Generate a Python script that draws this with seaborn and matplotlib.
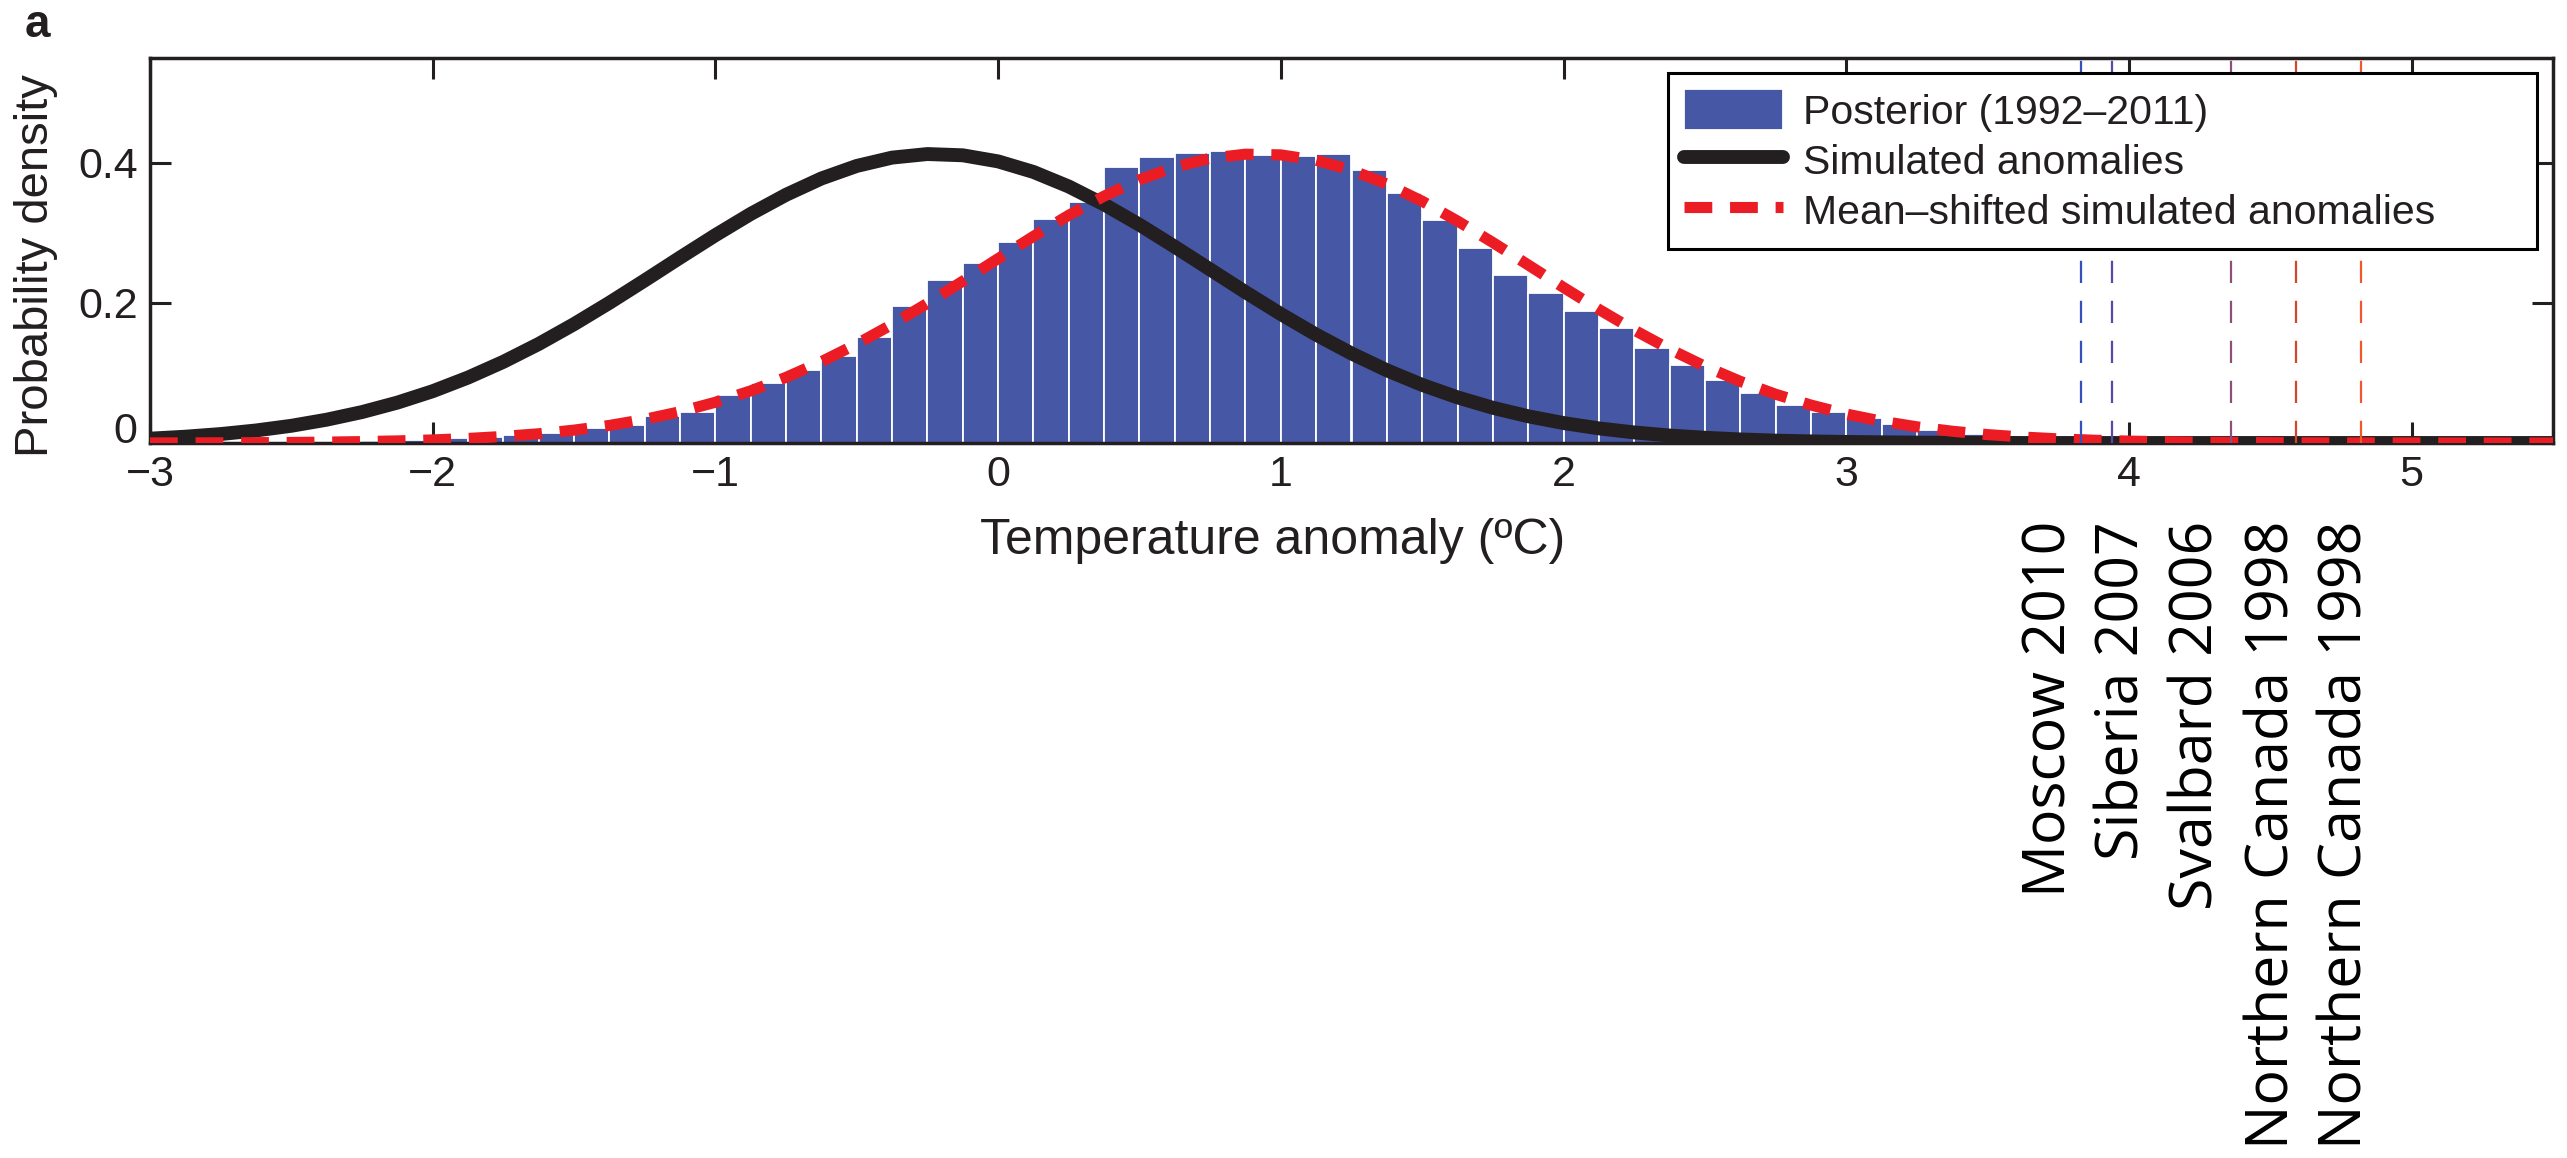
import numpy as np
import matplotlib
matplotlib.use("Agg")
import matplotlib.pyplot as plt
import matplotlib.transforms as mtransforms
import seaborn as sns

# ---------------- data ----------------
bin_edges = [-2.375, -2.25, -2.125, -2.0, -1.875, -1.75, -1.625, -1.5, -1.375, -1.25,
             -1.125, -1.0, -0.875, -0.75, -0.625, -0.5, -0.375, -0.25, -0.125, 0.0,
             0.125, 0.25, 0.375, 0.5, 0.625, 0.75, 0.875, 1.0, 1.125, 1.25,
             1.375, 1.5, 1.625, 1.75, 1.875, 2.0, 2.125, 2.25, 2.375, 2.5,
             2.625, 2.75, 2.875, 3.0, 3.125, 3.25, 3.375, 3.5, 3.625, 3.75]
posterior = [0.002, 0.003, 0.005, 0.007, 0.009, 0.012, 0.014, 0.021, 0.026, 0.038,
             0.045, 0.069, 0.086, 0.105, 0.124, 0.152, 0.195, 0.233, 0.257, 0.287,
             0.320, 0.345, 0.394, 0.409, 0.414, 0.417, 0.412, 0.410, 0.413, 0.390,
             0.357, 0.318, 0.279, 0.240, 0.214, 0.188, 0.164, 0.136, 0.112, 0.090,
             0.071, 0.055, 0.045, 0.036, 0.027, 0.019, 0.013, 0.008, 0.004]

curve_x = [-3.0, -2.875, -2.75, -2.625, -2.5, -2.375, -2.25, -2.125,
           -2.0, -1.875, -1.75, -1.625, -1.5, -1.375, -1.25, -1.125,
           -1.0, -0.875, -0.75, -0.625, -0.5, -0.375, -0.25, -0.125,
           0.0, 0.125, 0.25, 0.375, 0.5, 0.625, 0.75, 0.875,
           1.0, 1.125, 1.25, 1.375, 1.5, 1.625, 1.75, 1.875,
           2.0, 2.125, 2.25, 2.375, 2.5, 2.625, 2.75, 2.875,
           3.0, 3.125, 3.25, 3.375, 3.5, 3.625, 3.75, 3.875,
           4.0, 4.125, 4.25, 4.375, 4.5, 4.625, 4.75, 4.875,
           5.0, 5.125, 5.25, 5.375, 5.5]
simulated = [0.0062, 0.0090, 0.0128, 0.0179, 0.0246, 0.0333, 0.0442, 0.0577,
             0.0740, 0.0935, 0.1160, 0.1415, 0.1698, 0.2003, 0.2323, 0.2649,
             0.2969, 0.3273, 0.3546, 0.3779, 0.3958, 0.4077, 0.4128, 0.4110,
             0.4023, 0.3872, 0.3664, 0.3408, 0.3118, 0.2803, 0.2479, 0.2155,
             0.1842, 0.1548, 0.1279, 0.1039, 0.0830, 0.0652, 0.0503, 0.0382,
             0.0285, 0.0209, 0.0151, 0.0107, 0.0075, 0.0051, 0.0034, 0.0023,
             0.0015, 0.0010, 0.0006, 0.0004, 0.0002, 0.0, 0.0, 0.0,
             0.0, 0.0, 0.0, 0.0, 0.0, 0.0, 0.0, 0.0,
             0.0, 0.0, 0.0, 0.0, 0.0]
shifted = [0.0001, 0.0002, 0.0003, 0.0005, 0.0008, 0.0013, 0.0020, 0.0030,
           0.0044, 0.0065, 0.0094, 0.0132, 0.0184, 0.0251, 0.0338, 0.0447,
           0.0582, 0.0745, 0.0938, 0.1162, 0.1415, 0.1694, 0.1995, 0.2312,
           0.2634, 0.2952, 0.3254, 0.3527, 0.3760, 0.3943, 0.4067, 0.4126,
           0.4116, 0.4039, 0.3898, 0.3700, 0.3454, 0.3171, 0.2864, 0.2544,
           0.2222, 0.1909, 0.1613, 0.1341, 0.1096, 0.0881, 0.0697, 0.0542,
           0.0414, 0.0312, 0.0231, 0.0168, 0.0120, 0.0085, 0.0059, 0.0040,
           0.0027, 0.0018, 0.0011, 0.0007, 0.0005, 0.0003, 0.0002, 0.0001,
           0.0001, 0.0, 0.0, 0.0, 0.0]

event_names = ["Moscow 2010", "Siberia 2007", "Svalbard 2006",
               "Northern Canada 1998", "Northern Canada 1998"]
event_x = [3.83, 3.94, 4.36, 4.59, 4.82]
event_colors = ["#3550b8", "#5a46ad", "#8e4f7c", "#d4452c", "#ee5a30"]
event_label_x = [3.72, 3.98, 4.24, 4.51, 4.77]

x_ticks = [-3, -2, -1, 0, 1, 2, 3, 4, 5]
y_ticks = [0, 0.2, 0.4]
y_tick_labels = ["0", "0.2", "0.4"]

legend_order = ["Posterior (1992\u20132011)", "Simulated anomalies",
                "Mean\u2013shifted simulated anomalies"]

# ---------------- style ----------------
sns.set_style("ticks")
plt.rcParams["font.family"] = ["Liberation Sans", "DejaVu Sans"]
plt.rcParams["axes.unicode_minus"] = True

BLUE = "#4658a5"
BLACK = "#231f20"
RED = "#ec1c24"
TXT = "#231f20"

W, H = 2567, 1158
fig = plt.figure(figsize=(W / 100, H / 100), dpi=100)
ax = fig.add_axes([150 / W, 1 - 443 / H, (2553 - 150) / W, (443 - 58) / H])

centers = [(a + b) / 2 for a, b in zip(bin_edges[:-1], bin_edges[1:])]
sns.histplot(x=centers, weights=posterior, bins=bin_edges, stat="count",
             color=BLUE, alpha=1, edgecolor="white", linewidth=1.3,
             label=legend_order[0], ax=ax, zorder=2)
sns.lineplot(x=curve_x, y=simulated, color=BLACK, linewidth=10,
             label=legend_order[1], ax=ax, zorder=3)
sns.lineplot(x=curve_x, y=shifted, color=RED, linewidth=8,
             linestyle=(0, (2.5, 1.6)),
             label=legend_order[2], ax=ax, zorder=4)

for xv, c in zip(event_x, event_colors):
    ax.axvline(xv, color=c, lw=1.6, linestyle=(0, (10, 8)), zorder=5)

ax.set_xlim(-3, 5.5)
ax.set_ylim(0, 0.55)
ax.set_xticks(x_ticks)
ax.set_yticks(y_ticks)
ax.set_yticklabels(y_tick_labels)

for s in ax.spines.values():
    s.set_visible(True)
    s.set_linewidth(2.5)
    s.set_color(BLACK)
ax.tick_params(direction="in", length=15, width=2.2, top=True, right=True,
               labelsize=31, pad=9, colors=BLACK, labelcolor=TXT)

# the "0" label sits a little above the bottom spine, as in the original
zero_tick = ax.yaxis.get_major_ticks()[0]
zero_tick.label1.set_transform(zero_tick.label1.get_transform() +
                               mtransforms.ScaledTranslation(0, 11 / 72, fig.dpi_scale_trans))

ax.set_xlabel("Temperature anomaly (\u00baC)", fontsize=36, color=TXT)
ax.set_ylabel("Probability density", fontsize=34, color=TXT)
ax.xaxis.set_label_coords(0.467, -0.195)
ax.yaxis.set_label_coords(-0.0383, 0.462)

handles, labels = ax.get_legend_handles_labels()
hmap = dict(zip(labels, handles))
leg = ax.legend([hmap[k] for k in legend_order], legend_order,
                loc="upper left", bbox_to_anchor=(0.6317, 0, 0.3616, 0.961),
                mode="expand", borderaxespad=0, fontsize=29.5,
                handlelength=2.4, handleheight=1.15, handletextpad=0.5,
                labelspacing=0.2, borderpad=0.4, frameon=True,
                fancybox=False, edgecolor="black", framealpha=1)
leg.get_frame().set_linewidth(2.2)
leg.set_zorder(10)
for t in leg.get_texts():
    t.set_color(TXT)

fig.text(25 / W, 1 - 37 / H, "a", fontsize=33, fontweight="bold",
         va="baseline", ha="left", color=TXT)

trans = mtransforms.blended_transform_factory(ax.transData, fig.transFigure)
for name, lx in zip(event_names, event_label_x):
    ax.text(lx, 1 - 521 / H, name, transform=trans, rotation=90,
            ha="center", va="top", fontsize=42.5, family=["Open Sans", "DejaVu Sans"],
            color="black", clip_on=False)

fig.savefig("out.png", dpi=100)
